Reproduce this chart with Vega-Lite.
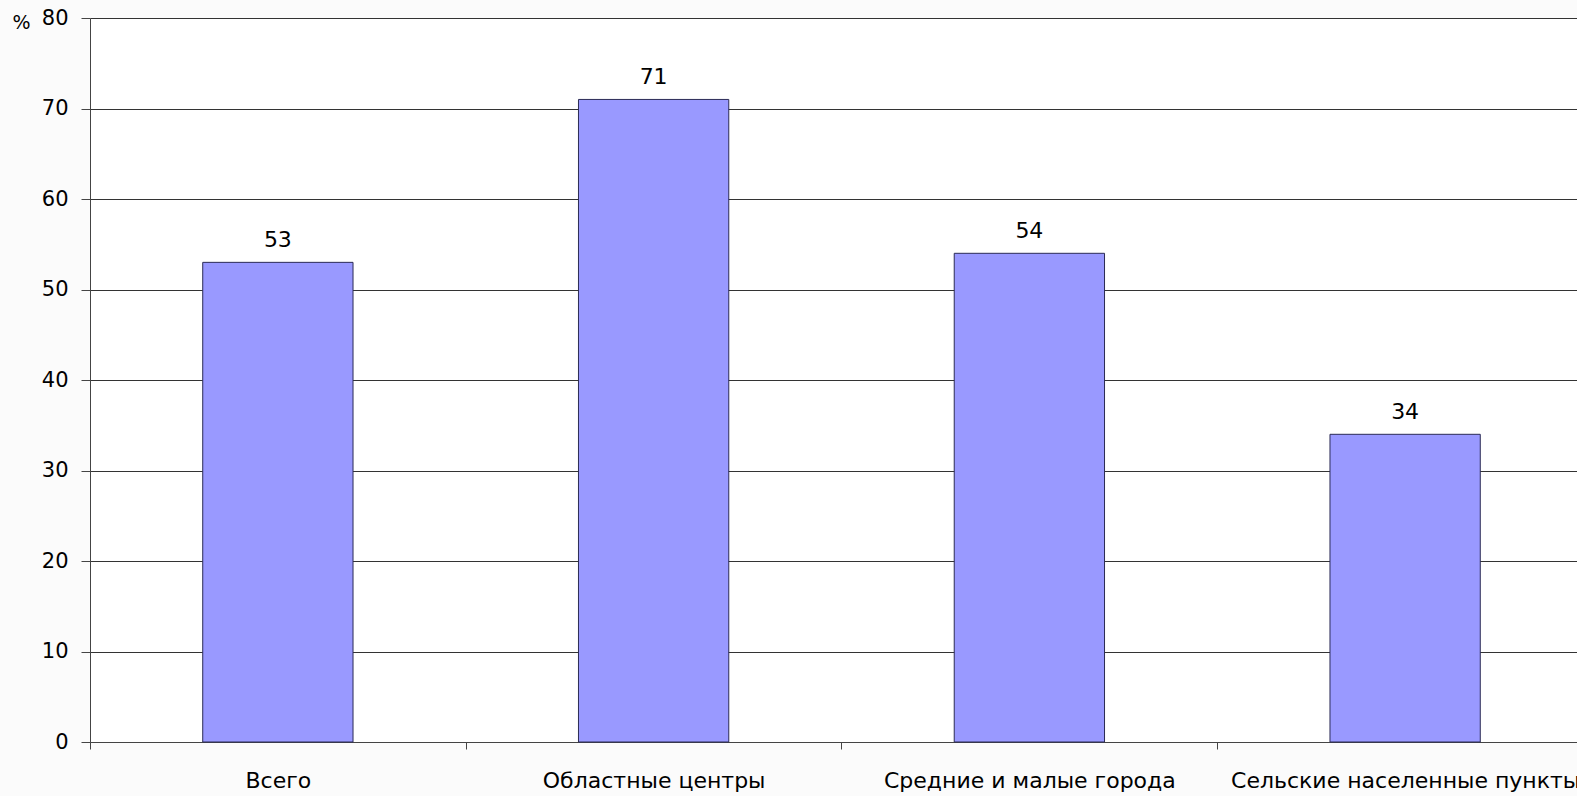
{
  "$schema": "https://vega.github.io/schema/vega-lite/v6.json",
  "autosize": {"type": "none"},
  "padding": {"left": 90, "top": 18, "right": 0, "bottom": 54},
  "width": 1503,
  "height": 724,
  "background": "#fbfbfb",
  "config": {
    "view": {"stroke": null, "fill": "white"},
    "font": "DejaVu Sans"
  },
  "data": {
    "values": [
      {"category": "Всего", "value": 53},
      {"category": "Областные центры", "value": 71},
      {"category": "Средние и малые города", "value": 54},
      {"category": "Сельские населенные пункты", "value": 34}
    ]
  },
  "encoding": {
    "x": {
      "field": "category",
      "type": "nominal",
      "sort": null,
      "scale": {"paddingInner": 0.6, "paddingOuter": 0.3},
      "axis": {
        "title": null,
        "labelAngle": 0,
        "labelFontSize": 22,
        "labelColor": "#000",
        "labelPadding": 21,
        "tickOffset": -188,
        "labelOffset": 188,
        "tickSize": 7,
        "tickColor": "#444",
        "domainColor": "#444",
        "labelOverlap": false,
        "labelLimit": 0
      }
    },
    "y": {
      "field": "value",
      "type": "quantitative",
      "scale": {"domain": [0, 80]},
      "axis": {
        "values": [0, 10, 20, 30, 40, 50, 60, 70, 80],
        "title": "%",
        "titleAngle": 0,
        "titleX": -78,
        "titleY": 4,
        "titleAlign": "left",
        "titleBaseline": "middle",
        "titleFontWeight": "normal",
        "titleFontSize": 19,
        "titleColor": "#000",
        "labelFontSize": 21,
        "labelColor": "#000",
        "labelPadding": 13,
        "tickSize": 9,
        "tickColor": "#444",
        "domainColor": "#444",
        "grid": true,
        "gridColor": "#333",
        "gridOpacity": 1
      }
    }
  },
  "layer": [
    {
      "mark": {"type": "bar", "color": "#9999ff", "stroke": "#2b2b55", "strokeWidth": 1}
    },
    {
      "mark": {"type": "text", "baseline": "bottom", "dy": -10, "fontSize": 22, "color": "#000"},
      "encoding": {"text": {"field": "value", "type": "quantitative"}}
    }
  ]
}
